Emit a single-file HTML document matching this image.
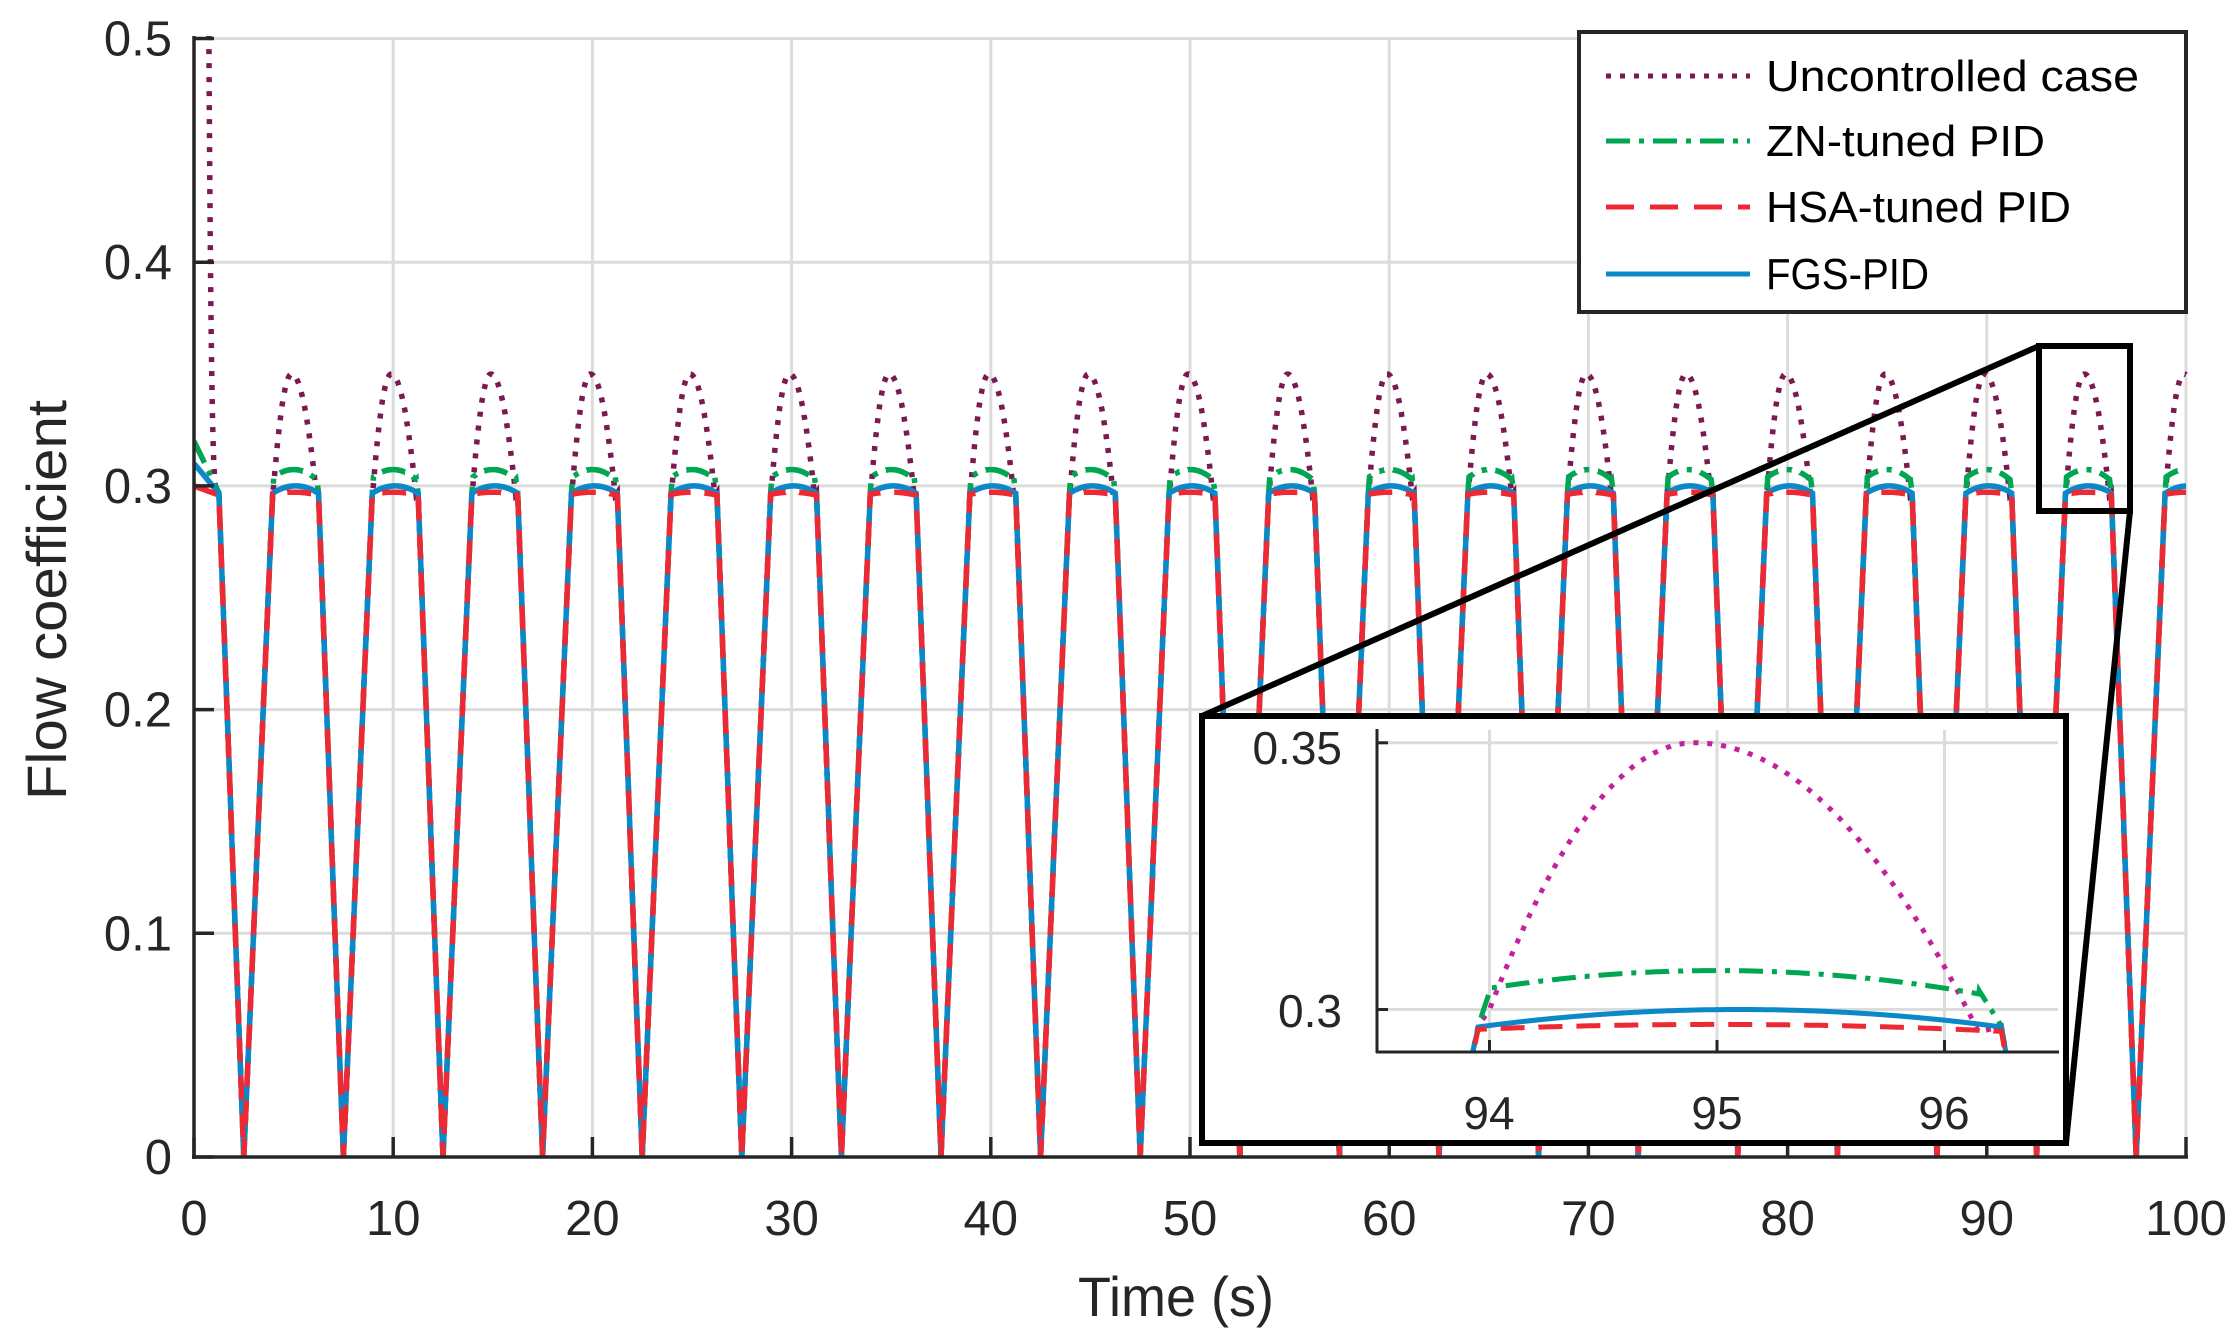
<!DOCTYPE html>
<html><head><meta charset="utf-8"><style>
html,body{margin:0;padding:0;background:#fff;width:2240px;height:1344px;overflow:hidden}
svg{display:block;position:absolute;left:0;top:0}
text{font-family:"Liberation Sans",sans-serif;fill:#262626}
</style></head><body>
<svg id="s" width="2240" height="1344" viewBox="0 0 2240 1344" xmlns="http://www.w3.org/2000/svg">
<defs>
<clipPath id="cm"><rect x="194" y="36" width="1994" height="1124"/></clipPath>
<clipPath id="ci"><rect x="1376" y="730" width="683" height="322"/></clipPath>
</defs>
<g id="grid" stroke="#dcdcdc" stroke-width="3"></g>
<g id="main" clip-path="url(#cm)" fill="none" stroke-width="5.5"></g>
<g id="axes" stroke="#262626" stroke-width="3.5"></g>
<g id="lab" font-size="49"></g>
<text x="1176" y="1316" font-size="56" text-anchor="middle" textLength="196" lengthAdjust="spacingAndGlyphs">Time (s)</text>
<text transform="translate(66,600) rotate(-90)" font-size="56" text-anchor="middle" textLength="400" lengthAdjust="spacingAndGlyphs">Flow coefficient</text>
<g stroke="#000" stroke-width="6" fill="none">
<rect x="2039" y="346" width="91" height="165"/>
<line x1="2039" y1="346" x2="1202" y2="716"/>
<line x1="2130" y1="511" x2="2066" y2="1143"/>
</g>
<rect x="1202" y="716" width="864" height="427" fill="#fff" stroke="#000" stroke-width="6"/>
<g id="igrid" stroke="#dcdcdc" stroke-width="3"></g>
<g id="inset" clip-path="url(#ci)" fill="none" stroke-width="5"></g>
<g id="iaxes" stroke="#262626" stroke-width="3"></g>
<g font-size="46">
<text x="1342" y="764" text-anchor="end">0.35</text>
<text x="1342" y="1027" text-anchor="end">0.3</text>
<text x="1489" y="1129" text-anchor="middle">94</text>
<text x="1717" y="1129" text-anchor="middle">95</text>
<text x="1944" y="1129" text-anchor="middle">96</text>
</g>
<rect x="1579" y="32" width="607" height="280" fill="#fff" stroke="#262626" stroke-width="4"/>
<g fill="none" stroke-width="5">
<line x1="1606" y1="76" x2="1750" y2="76" stroke="#7a1a50" stroke-dasharray="5 9"/>
<line x1="1606" y1="141" x2="1750" y2="141" stroke="#00a651" stroke-dasharray="24 9 5 9"/>
<line x1="1606" y1="207" x2="1750" y2="207" stroke="#ed2a33" stroke-dasharray="28 16"/>
<line x1="1606" y1="274" x2="1750" y2="274" stroke="#0a88c8"/>
</g>
<g font-size="44">
<text x="1766" y="91" textLength="373" lengthAdjust="spacingAndGlyphs" style="fill:#000">Uncontrolled case</text>
<text x="1766" y="156" textLength="279" lengthAdjust="spacingAndGlyphs" style="fill:#000">ZN-tuned PID</text>
<text x="1766" y="222" textLength="305" lengthAdjust="spacingAndGlyphs" style="fill:#000">HSA-tuned PID</text>
<text x="1766" y="289" textLength="163" lengthAdjust="spacingAndGlyphs" style="fill:#000">FGS-PID</text>
</g>
</svg>
<script>
(function(){
var NS="http://www.w3.org/2000/svg";
function el(p,tag,a){var e=document.createElementNS(NS,tag);for(var k in a)e.setAttribute(k,a[k]);p.appendChild(e);return e;}
var X=function(t){return 194+t*19.92;}, Y=function(v){return 1157-v*2237;};
var g=document.getElementById('grid'),ax=document.getElementById('axes'),lab=document.getElementById('lab');
for(var i=1;i<=10;i++){el(g,'line',{x1:X(i*10),y1:38,x2:X(i*10),y2:1157});}
for(var j=1;j<=5;j++){el(g,'line',{x1:194,y1:Y(j/10),x2:2187,y2:Y(j/10)});}
el(ax,'line',{x1:194,y1:36,x2:194,y2:1159});
el(ax,'line',{x1:192,y1:1157,x2:2188,y2:1157});
for(i=0;i<=10;i++){el(ax,'line',{x1:X(i*10),y1:1157,x2:X(i*10),y2:1137});
 var t=el(lab,'text',{x:X(i*10),y:1235,'text-anchor':'middle'});t.textContent=String(i*10);}
for(j=0;j<=5;j++){el(ax,'line',{x1:194,y1:Y(j/10),x2:214,y2:Y(j/10)});
 var t2=el(lab,'text',{x:172,y:Y(j/10)+17,'text-anchor':'end'});t2.textContent=j==0?'0':(j/10).toString();}
function plat(p,k){
 if(k=='b') return 0.300-0.003*Math.pow((p-0.1)/1.1,2);
 if(k=='r') return 0.2972-0.001*Math.pow(p/1.1,2);
 var bl=0.2969;
 if(k=='g'){ if(p<-1.0) return bl+(p+1.05)/0.05*(0.3033-bl);
   if(p>1.15) return 0.3037+(p-1.15)/0.1*(bl-0.3037);
   return 0.3073-0.004*Math.pow(p/1.1,2);}
 if(k=='u'){ if(p<-1.0) return bl+(p+1.05)/0.05*(0.300-bl);
   var v; if(p<-0.1) v=0.35-0.05*Math.pow((p+0.1)/0.9,2); else v=0.35-0.05*Math.pow((p+0.1)/1.2,2);
   if(p>1.15){var e=0.35-0.05*Math.pow(1.25/1.2,2); v=e+(p-1.15)/0.1*(bl-e);}
   return v;}
}
function f(t,k){
 if(t<1.25){
  var end=plat(1.25,k);
  if(k=='g') return 0.32+(end-0.32)*t/1.25;
  if(k=='b') return 0.31+(end-0.31)*t/1.25;
  if(k=='r') return 0.30+(end-0.30)*t/1.25;
  if(k=='u'){ if(t<0.75) return 0.52; var s=(t-0.75)/0.5; return end+(0.5-end)*Math.pow(1-s,4);}
 }
 var p=((t+1.05)%5)-1.05;
 if(p<=1.25) return plat(p,k);
 if(p<2.5) return plat(1.25,k)*(2.5-p)/1.25;
 return plat(-1.05,k)*(p-2.5)/1.45;
}
var ser=[['u','#7a1a50','5 9'],['g','#00a651','24 9 5 9'],['b','#0a88c8',''],['r','#ed2a33','24 14']];
var m=document.getElementById('main');
ser.forEach(function(s){var d='';for(var t=0;t<=100.0001;t+=0.01){d+=(d?'L':'M')+X(t).toFixed(1)+' '+Y(f(t,s[0])).toFixed(1);}
 var a={d:d,stroke:s[1]};if(s[2])a['stroke-dasharray']=s[2];el(m,'path',a);});
var IX=function(t){return 1717+(t-95)*227.5;}, IY=function(v){v=Math.max(0.29,Math.min(0.355,v));return 1009.5-(v-0.3)*5334;};
var ig=document.getElementById('igrid'),ia=document.getElementById('iaxes');
[94,95,96].forEach(function(t){el(ig,'line',{x1:IX(t),y1:730,x2:IX(t),y2:1052});el(ia,'line',{x1:IX(t),y1:1052,x2:IX(t),y2:1040});});
[0.3,0.35].forEach(function(v){el(ig,'line',{x1:1376,y1:IY(v),x2:2058,y2:IY(v)});el(ia,'line',{x1:1376,y1:IY(v),x2:1388,y2:IY(v)});});
el(ia,'line',{x1:1377,y1:729,x2:1377,y2:1053});
el(ia,'line',{x1:1376,y1:1052,x2:2059,y2:1052});
var ins=document.getElementById('inset');
var iser=[['u','#c4209a','5 9'],['g','#00a651','24 9 5 9'],['b','#0a88c8',''],['r','#ed2a33','24 14']];
iser.forEach(function(s){var d='';for(var t=93.5;t<=96.5;t+=0.002){d+=(d?'L':'M')+IX(t).toFixed(1)+' '+IY(f(t,s[0])).toFixed(1);}
 var a={d:d,stroke:s[1]};if(s[2])a['stroke-dasharray']=s[2];el(ins,'path',a);});
})();
</script>
</body></html>
